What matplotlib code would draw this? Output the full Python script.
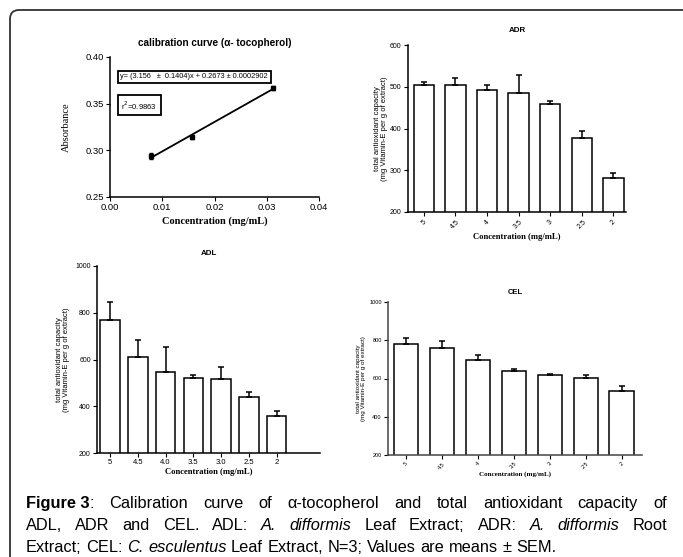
import matplotlib
matplotlib.use("Agg")
import matplotlib.pyplot as plt
from matplotlib.patches import FancyBboxPatch
from matplotlib.transforms import IdentityTransform
import numpy as np

plt.rcParams['font.family'] = ['Liberation Sans', 'DejaVu Sans']

# ---------------- data ----------------
cal_conc = [0.0078125, 0.015625, 0.03125]
cal_abs = [0.294, 0.314, 0.367]
cal_err = [0.003, 0.002, 0.002]
fit_slope = 3.156
fit_intercept = 0.2673

adr_labels = ["5", "4.5", "4", "3.5", "3", "2.5", "2"]
adr_mean = [504, 504, 493, 485, 458, 377, 281]
adr_sem = [7, 16, 11, 43, 7, 16, 12]

adl_labels = ["5", "4.5", "4.0", "3.5", "3.0", "2.5", "2"]
adl_mean = [768, 609, 546, 522, 516, 439, 358]
adl_sem = [77, 75, 108, 10, 50, 24, 21]

cel_labels = ["5", "4.5", "4", "3.5", "3", "2.5", "2"]
cel_mean = [782, 757, 696, 638, 617, 602, 537]
cel_sem = [29, 37, 26, 14, 9, 15, 25]

W, H = 683, 557
fig = plt.figure(figsize=(W / 100, H / 100), dpi=100)
fig.patch.set_facecolor('white')


def rect(l, t, r, b):
    return [l / W, 1 - b / H, (r - l) / W, (b - t) / H]


def style_axes(ax, tick_size):
    for s in ['top', 'right']:
        ax.spines[s].set_visible(False)
    for s in ['left', 'bottom']:
        ax.spines[s].set_linewidth(1.1)
    ax.tick_params(direction='out', length=3, width=0.8, labelsize=tick_size, pad=1.5)


serif = ['Liberation Serif', 'DejaVu Serif']

# ---------------- calibration panel ----------------
ax1 = fig.add_axes(rect(110, 57, 319, 197))
style_axes(ax1, 6.8)
ax1.set_xlim(0, 0.04)
ax1.set_ylim(0.25, 0.40)
ax1.set_xticks([0.00, 0.01, 0.02, 0.03, 0.04])
ax1.set_xticklabels(["0.00", "0.01", "0.02", "0.03", "0.04"])
ax1.set_yticks([0.25, 0.30, 0.35, 0.40])
ax1.set_yticklabels(["0.25", "0.30", "0.35", "0.40"])
xf = np.array([cal_conc[0], cal_conc[-1]])
ax1.plot(xf, fit_slope * xf + fit_intercept, color='black', lw=1.3)
ax1.errorbar(cal_conc, cal_abs, yerr=cal_err, fmt='s', ms=2.5, color='black',
             ecolor='black', elinewidth=1, capsize=1.5)
ax1.set_title("calibration curve (α- tocopherol)", fontsize=7.2, fontweight='bold', pad=8)
ax1.set_xlabel("Concentration (mg/mL)", family=serif, fontweight='bold', fontsize=7.5, labelpad=3)
ax1.set_ylabel("Absorbance", family=serif, fontsize=7.5, labelpad=10)
ax1.text(0.05, 0.86, "y= (3.156   ±  0.1404)x + 0.2673 ± 0.0002902", transform=ax1.transAxes,
         fontsize=5.3, va='center', ha='left',
         bbox=dict(boxstyle='square,pad=0.35', fc='white', ec='black', lw=1.3))
ax1.text(0.055, 0.655, "r$^{2}$=0.9863", transform=ax1.transAxes,
         fontsize=5.5, va='center', ha='left',
         bbox=dict(boxstyle='square,pad=0.5', fc='white', ec='black', lw=1.3))


# ---------------- bar panels ----------------
def bar_panel(box, labels, mean, sem, ylim, yticks, xlim, width, title, rot,
              tick_size, xtick_size, ylab_size, xlab_size, title_size, capsize,
              ylabelpad, xlabelpad, title_pad):
    ax = fig.add_axes(rect(*box))
    style_axes(ax, tick_size)
    x = np.arange(len(mean))
    ax.bar(x, mean, width=width, color='white', edgecolor='black', linewidth=1.1, zorder=2)
    ax.errorbar(x, mean, yerr=[np.zeros(len(sem)), sem], fmt='none', ecolor='black',
                elinewidth=1.1, capsize=capsize, capthick=1.1, zorder=3)
    ax.set_ylim(*ylim)
    ax.set_yticks(yticks)
    ax.set_xlim(*xlim)
    ax.set_xticks(x)
    if rot:
        ax.set_xticklabels(labels, rotation=45, ha='center', fontsize=xtick_size)
    else:
        ax.set_xticklabels(labels, fontsize=xtick_size)
    ax.set_title(title, fontsize=title_size, fontweight='bold', pad=title_pad)
    ax.set_ylabel("total antioxidant capacity\n(mg Vitamin-E per g of extract)",
                  fontsize=ylab_size, linespacing=1.0, labelpad=ylabelpad)
    ax.set_xlabel("Concentration (mg/mL)", family=serif, fontweight='bold', fontsize=xlab_size,
                  labelpad=xlabelpad)
    return ax


ax2 = bar_panel((408, 45, 626, 212), adr_labels, adr_mean, adr_sem, (200, 600),
                [200, 300, 400, 500, 600], (-0.5, 6.4), 0.65, "ADR", True,
                5, 5, 5.5, 6.2, 5.8, 2.2, 1.5, 2, 9)
ax3 = bar_panel((97, 266, 320, 453), adl_labels, adl_mean, adl_sem, (200, 1000),
                [200, 400, 600, 800, 1000], (-0.47, 7.56), 0.7, "ADL", False,
                5, 5.5, 5.5, 6.2, 5.8, 2.2, 4, 1, 8)
ax4 = bar_panel((388, 302, 642, 455), cel_labels, cel_mean, cel_sem, (200, 1000),
                [200, 400, 600, 800, 1000], (-0.5, 6.57), 0.67, "CEL", True,
                4, 4, 4.5, 5, 5.5, 2.5, 2, 1, 6)
for s in ['left', 'bottom']:
    ax4.spines[s].set_color('#444444')

# ---------------- border ----------------
border = FancyBboxPatch((10, -30), 700, (H - 10) + 30,
                        boxstyle='round,pad=0,rounding_size=9',
                        transform=IdentityTransform(), fc='none', ec='#333333', lw=1.3)
fig.add_artist(border)

# ---------------- caption (justified) ----------------
cap_lines = [
    [[("Figure 3", 'bold', 'normal'), (":", 'normal', 'normal')], [("Calibration", 'normal', 'normal')],
     [("curve", 'normal', 'normal')], [("of", 'normal', 'normal')], [("α-tocopherol", 'normal', 'normal')],
     [("and", 'normal', 'normal')], [("total", 'normal', 'normal')], [("antioxidant", 'normal', 'normal')],
     [("capacity", 'normal', 'normal')], [("of", 'normal', 'normal')]],
    [[("ADL,", 'normal', 'normal')], [("ADR", 'normal', 'normal')], [("and", 'normal', 'normal')],
     [("CEL.", 'normal', 'normal')], [("ADL:", 'normal', 'normal')], [("A.", 'normal', 'italic')],
     [("difformis", 'normal', 'italic')], [("Leaf", 'normal', 'normal')], [("Extract;", 'normal', 'normal')],
     [("ADR:", 'normal', 'normal')], [("A.", 'normal', 'italic')], [("difformis", 'normal', 'italic')],
     [("Root", 'normal', 'normal')]],
    [[("Extract;", 'normal', 'normal')], [("CEL:", 'normal', 'normal')], [("C.", 'normal', 'italic')],
     [("esculentus", 'normal', 'italic')], [("Leaf", 'normal', 'normal')], [("Extract,", 'normal', 'normal')],
     [("N=3;", 'normal', 'normal')], [("Values", 'normal', 'normal')], [("are", 'normal', 'normal')],
     [("means", 'normal', 'normal')], [("±", 'normal', 'normal')], [("SEM.", 'normal', 'normal')]],
]
cap_size = 11.8
x_left, x_right = 26, 667
baselines = [508, 530, 552]
renderer = fig.canvas.get_renderer()


def measure(txt, weight, style):
    t = fig.text(0, 0, txt, fontsize=cap_size, fontweight=weight, fontstyle=style)
    w = t.get_window_extent(renderer).width
    t.remove()
    return w


space_w = measure("a b", 'normal', 'normal') - measure("ab", 'normal', 'normal')
for li, words in enumerate(cap_lines):
    widths = []
    for word in words:
        widths.append([measure(p[0], p[1], p[2]) for p in word])
    total = sum(sum(w) for w in widths)
    if li < len(cap_lines) - 1:
        gap = (x_right - x_left - total) / (len(words) - 1)
    else:
        gap = space_w
    x = x_left
    y = 1 - baselines[li] / H
    for word, wl in zip(words, widths):
        for (txt, weight, style), w in zip(word, wl):
            fig.text(x / W, y, txt, fontsize=cap_size, fontweight=weight, fontstyle=style,
                     va='baseline', ha='left')
            x += w
        x += gap

fig.savefig("out.png", dpi=100)
